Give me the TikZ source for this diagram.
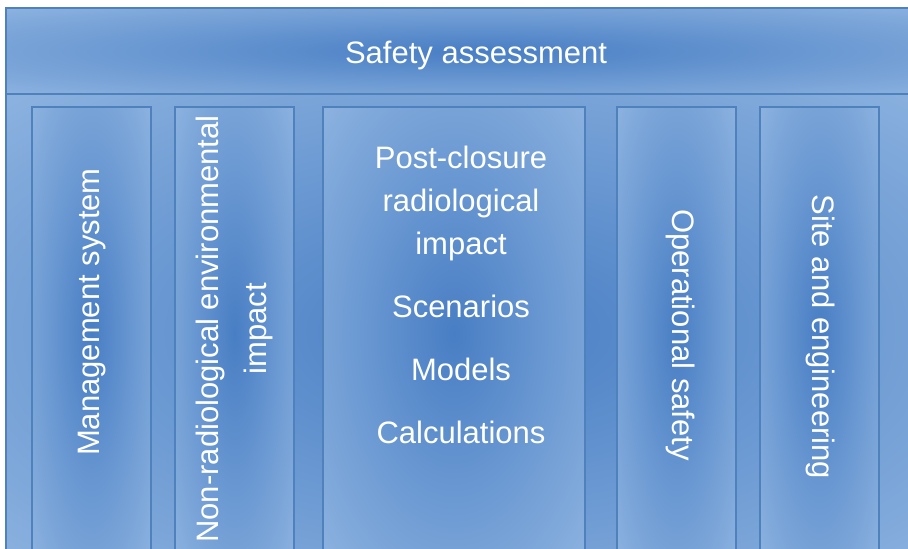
\documentclass[tikz,border=0pt]{standalone}
\usepackage{fontspec}
\setmainfont{Liberation Sans}
\definecolor{paleblue}{RGB}{141,179,224}
\definecolor{deepblue}{RGB}{72,126,196}
\definecolor{edgeblue}{RGB}{79,129,189}
\pgfdeclareradialshading{glow}{\pgfpoint{0bp}{0bp}}{color(0bp)=(deepblue); color(36bp)=(paleblue); color(50bp)=(paleblue)}

\begin{document}
\begin{tikzpicture}[
  x=0.5pt, y=-0.5pt,
  basebox/.style={draw=edgeblue, line width=1pt, shading=glow, inner sep=0pt},
  bandbox/.style={basebox, minimum width=472pt},
  colbox/.style={basebox, minimum width=59.5pt, minimum height=226.5pt},
  widecol/.style={colbox, minimum width=131pt},
  lbl/.style={text=white, align=center, font=\fontsize{15.5}{21.5}\selectfont}
]
\useasboundingbox (0,0) rectangle (908,548);
\clip (0,0) rectangle (908,548);

% frame and header band
\node[bandbox, minimum height=238pt] (base) at (478,332) {};
\node[bandbox, minimum height=43pt] (header) at (478,51) {};
\node[lbl] (title) at (476,55) {Safety assessment};

% columns, left to right
\node[colbox]  (mgmt) at (91.5,333.5) {};
\node[colbox]  (envir) at (234.5,333.5) {};
\node[widecol] (postcl) at (454,333.5) {};
\node[colbox]  (opsafe) at (676.5,333.5) {};
\node[colbox]  (site) at (819.5,333.5) {};

% column texts
\node[lbl, rotate=90] (mgmttxt) at (92,312) {Management system};
\node[lbl, rotate=90, font=\fontsize{15.5}{24}\selectfont] (envirtxt) at (234,329) {Non-radiological environmental\\impact};
\node[lbl] (postcltxt) at (461,295) {Post-closure\\radiological\\impact\\[10pt]Scenarios\\[10pt]Models\\[10pt]Calculations};
\node[lbl, rotate=-90] (opsafetxt) at (680,335) {Operational safety};
\node[lbl, rotate=-90] (sitetxt) at (820,337) {Site and engineering};

\end{tikzpicture}
\end{document}
